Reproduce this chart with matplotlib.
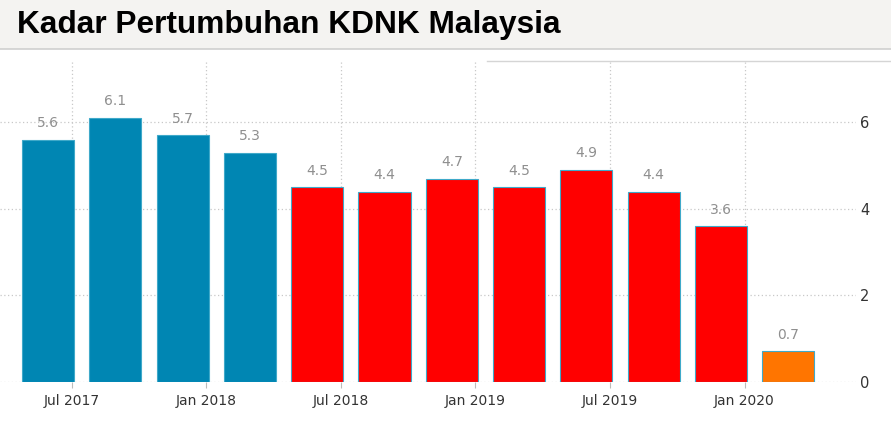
import matplotlib
matplotlib.use("Agg")
import matplotlib.pyplot as plt
from matplotlib.patches import Rectangle
from matplotlib.lines import Line2D

title = "Kadar Pertumbuhan KDNK Malaysia"
values = [5.6, 6.1, 5.7, 5.3, 4.5, 4.4, 4.7, 4.5, 4.9, 4.4, 3.6, 0.7]
bar_colors = ["#0086b3"] * 4 + ["#ff0000"] * 7 + ["#ff7500"]
tick_labels = ["Jul 2017", "Jan 2018", "Jul 2018", "Jan 2019", "Jul 2019", "Jan 2020"]
tick_bar_index = [0, 2, 4, 6, 8, 10]
tick_offset = 0.35
y_ticks = [0, 2, 4, 6]

W, H = 891, 432
fig = plt.figure(figsize=(W / 100, H / 100), dpi=100)
fig.patch.set_facecolor("white")

# title band
fig.patches.append(Rectangle((0, 1 - 48.5 / H), 1, 48.5 / H, transform=fig.transFigure,
                             facecolor="#f4f3f1", edgecolor="none", zorder=0))
fig.lines.append(Line2D([0, 1], [1 - 49 / H] * 2, transform=fig.transFigure,
                        color="#cfcfcf", lw=1.2))
fig.lines.append(Line2D([487 / W, 1], [1 - 60.7 / H] * 2, transform=fig.transFigure,
                        color="#d5d5d5", lw=1.0))
fig.text(17 / W, 1 - 25 / H, title, fontsize=22.8, fontweight="bold",
         family="Liberation Sans", color="black", va="center", ha="left")

ax = fig.add_axes([0, 1 - 381.7 / H, 856 / W, (381.7 - 62) / H])
x = list(range(len(values)))
bars = ax.bar(x, values, width=0.775, color=bar_colors, edgecolor="#3fa9c9",
              linewidth=0.8, zorder=3)
for xi, v in zip(x, values):
    ax.annotate(f"{v:.1f}", (xi, v), xytext=(0, 12), textcoords="offset points",
                ha="center", va="center", fontsize=10, color="#8f8f8f",
                family="DejaVu Sans")

ax.set_xlim(-0.713, 12.006)
ax.set_ylim(0, 7.4)
ax.set_xticks([i + tick_offset for i in tick_bar_index])
ax.set_xticklabels(tick_labels, fontsize=10, color="#333333")
ax.set_yticks(y_ticks)
ax.set_yticklabels([str(t) for t in y_ticks], fontsize=10.5, color="#333333")
ax.yaxis.tick_right()
ax.tick_params(axis="y", length=0, pad=3)
ax.tick_params(axis="x", length=4, color="#bbbbbb", pad=5)
for s in ax.spines.values():
    s.set_visible(False)
ax.grid(True, linestyle=(0, (1, 2)), color="#c8c8c8", linewidth=0.9, zorder=0)
ax.set_axisbelow(True)
ax.set_facecolor("none")

fig.savefig("out.png", dpi=100)
